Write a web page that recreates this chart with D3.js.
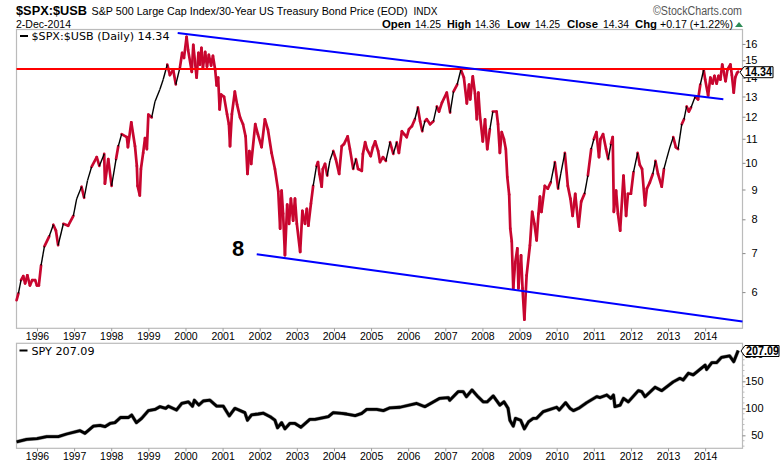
<!DOCTYPE html>
<html><head><meta charset="utf-8">
<script src="https://cdnjs.cloudflare.com/ajax/libs/d3/7.8.5/d3.min.js"></script>
<style>html,body{margin:0;padding:0;background:#fff}svg{display:block}text{font-family:"Liberation Sans",Arial,sans-serif;fill:#000}</style>
</head><body><svg id="c" width="780" height="465"></svg>
<script>
const yearLabels=[1996,1997,1998,1999,2000,2001,2002,2003,2004,2005,2006,2007,2008,2009,2010,2011,2012,2013,2014];
const ratioTicks=[6,7,8,9,10,11,12,13,14,15,16];
const spyTicks=[50,100,150,200];
const ratioYears=[
1995.45,1995.50,1995.57,1995.63,1995.68,1995.74,1995.81,1995.87,1995.95,1996.00,1996.05,1996.11,1996.20,1996.33,1996.44,1996.51,1996.57,1996.71,1996.84,1996.98,
1997.07,1997.20,1997.27,1997.36,1997.47,1997.61,1997.68,1997.81,1997.83,1997.92,1998.01,1998.13,1998.19,1998.28,1998.42,1998.45,1998.54,1998.64,1998.69,1998.71,
1998.77,1998.80,1998.86,1998.91,1998.96,1999.00,1999.09,1999.18,1999.31,1999.40,1999.51,1999.58,1999.67,1999.74,1999.85,1999.91,1999.96,2000.03,2000.07,2000.17,
2000.21,2000.30,2000.35,2000.39,2000.43,2000.47,2000.53,2000.58,2000.63,2000.69,2000.74,2000.80,2000.84,2000.88,2000.92,2000.96,2001.04,2001.12,2001.17,2001.20,
2001.25,2001.33,2001.39,2001.47,2001.55,2001.62,2001.67,2001.72,2001.77,2001.88,2001.95,2002.05,2002.14,2002.22,2002.32,2002.41,2002.50,2002.55,2002.59,2002.63,
2002.68,2002.74,2002.79,2002.84,2002.90,2002.95,2003.00,2003.09,2003.15,2003.22,2003.27,2003.31,2003.38,2003.44,2003.53,2003.57,2003.61,2003.67,2003.70,2003.76,
2003.82,2003.89,2003.98,2004.05,2004.14,2004.21,2004.27,2004.37,2004.43,2004.52,2004.59,2004.65,2004.75,2004.78,2004.84,2004.89,2004.99,2005.05,2005.11,2005.19,
2005.24,2005.32,2005.40,2005.51,2005.60,2005.69,2005.75,2005.83,2005.89,2005.96,2006.02,2006.10,2006.18,2006.26,2006.32,2006.38,2006.45,2006.50,2006.59,2006.68,
2006.77,2006.83,2006.91,2007.04,2007.13,2007.22,2007.32,2007.42,2007.50,2007.58,2007.64,2007.67,2007.74,2007.80,2007.85,2007.89,2007.93,2008.01,2008.07,2008.13,
2008.20,2008.28,2008.38,2008.42,2008.47,2008.52,2008.58,2008.63,2008.67,2008.72,2008.75,2008.79,2008.83,2008.88,2008.94,2008.97,2009.04,2009.08,2009.13,2009.19,
2009.28,2009.34,2009.40,2009.46,2009.51,2009.55,2009.59,2009.68,2009.76,2009.84,2009.95,2010.04,2010.11,2010.22,2010.30,2010.37,2010.43,2010.50,2010.59,2010.66,
2010.75,2010.84,2010.93,2011.00,2011.07,2011.14,2011.18,2011.25,2011.33,2011.39,2011.46,2011.51,2011.54,2011.60,2011.65,2011.71,2011.80,2011.87,2011.92,2012.00,
2012.07,2012.18,2012.24,2012.30,2012.38,2012.43,2012.51,2012.59,2012.66,2012.73,2012.83,2012.89,2012.96,2013.05,2013.14,2013.21,2013.27,2013.37,2013.43,2013.50,
2013.56,2013.62,2013.73,2013.81,2013.87,2013.96,2014.00,2014.08,2014.14,2014.20,2014.25,2014.31,2014.36,2014.41,2014.46,2014.50,2014.55,2014.60,2014.68,2014.72,
2014.77,2014.81,2014.86,2014.89];
const ratioValues=[
5.81,5.97,6.29,6.39,6.21,6.41,6.16,6.29,6.29,6.16,6.16,6.67,7.19,7.48,7.83,7.65,7.22,7.86,7.80,8.11,
8.68,9.10,8.71,9.32,9.84,10.23,9.88,10.36,9.21,10.15,9.13,10.15,10.68,11.20,11.07,10.64,11.74,10.68,9.88,9.13,
8.79,9.76,10.40,11.03,10.56,12.10,11.97,12.75,13.36,13.90,14.75,14.15,14.45,13.63,14.57,15.44,15.14,16.45,15.63,14.33,
15.94,14.01,15.44,14.75,15.75,14.57,15.50,14.63,15.32,14.69,15.26,14.45,13.58,14.01,12.35,13.10,12.98,12.12,11.65,10.68,
12.12,13.25,12.59,11.97,11.65,11.10,9.57,10.48,9.96,11.65,11.20,10.64,11.88,11.42,10.40,9.76,8.93,7.71,8.96,8.18,
6.94,8.48,7.86,8.68,7.96,8.68,7.86,7.03,8.27,7.86,8.34,7.80,8.51,9.13,9.88,10.03,9.57,9.10,9.76,9.96,
9.51,10.08,10.48,10.15,9.57,10.68,10.77,11.10,10.56,9.76,10.15,9.76,9.69,10.36,10.85,10.56,10.27,10.64,10.89,10.48,
10.03,10.23,10.08,10.85,10.36,10.85,10.40,11.33,11.20,11.07,11.42,11.56,11.88,12.45,11.79,11.33,11.79,11.88,11.65,11.79,
12.50,12.25,12.69,13.20,12.20,13.25,13.63,14.45,14.01,12.65,13.63,12.85,14.07,13.15,11.88,13.20,12.12,10.89,11.88,10.56,
11.42,12.25,12.25,11.65,10.40,11.29,10.98,10.56,9.45,8.82,7.71,7.33,6.09,6.72,7.13,6.09,6.94,6.09,5.38,6.41,
7.22,8.24,7.86,7.36,8.18,8.75,8.24,9.13,9.03,9.26,10.03,9.03,9.57,10.40,9.13,8.68,8.11,8.85,7.77,8.58,
8.85,9.51,10.56,10.98,11.29,10.23,10.98,11.20,10.56,10.15,10.77,11.07,8.24,8.96,8.18,7.65,9.51,8.11,8.85,8.85,
9.64,10.40,9.92,9.76,8.45,9.03,9.26,9.57,10.08,9.57,9.10,9.76,10.15,10.64,11.07,10.64,10.56,11.65,11.88,12.50,
12.25,12.45,12.98,12.85,13.63,14.45,13.90,13.05,14.01,13.68,14.10,13.68,14.10,13.90,14.75,14.33,13.81,14.45,14.75,14.15,
13.20,14.01,14.27,14.34];
const spyYears=[
1995.45,1995.72,1996.00,1996.26,1996.57,1996.80,1997.16,1997.29,1997.52,1997.70,1997.83,1997.97,1998.10,1998.25,1998.46,1998.55,1998.68,1998.82,1999.00,1999.18,
1999.31,1999.47,1999.54,1999.76,1999.90,2000.08,2000.19,2000.24,2000.36,2000.48,2000.66,2000.84,2001.02,2001.18,2001.33,2001.60,2001.67,2001.78,2001.96,2002.10,
2002.28,2002.41,2002.48,2002.59,2002.68,2002.81,2002.95,2003.11,2003.35,2003.49,2003.85,2003.98,2004.21,2004.34,2004.57,2004.75,2004.88,2005.15,2005.33,2005.51,
2005.78,2006.23,2006.45,2006.85,2007.08,2007.12,2007.35,2007.48,2007.57,2007.72,2007.86,2008.02,2008.13,2008.29,2008.47,2008.58,2008.69,2008.74,2008.83,2008.89,
2009.03,2009.13,2009.24,2009.37,2009.46,2009.64,2010.00,2010.07,2010.24,2010.36,2010.45,2010.59,2010.81,2011.08,2011.17,2011.35,2011.46,2011.53,2011.57,2011.71,
2011.80,2011.93,2012.20,2012.29,2012.38,2012.65,2012.83,2013.14,2013.32,2013.41,2013.55,2013.68,2014.00,2014.04,2014.18,2014.31,2014.44,2014.66,2014.77,2014.89];
const spyValues=[
38,42.6,44,47.5,47.5,52.5,58.6,53.7,67,68.5,66,72,73.5,83,83,87.6,73.5,81.5,95.7,98,
103,100,104,97,109,112,104,115,106,113.6,115,104,104,86,100,92,78,88,89.5,91,
84.6,78,64,73.5,62,72,72,65,79.6,79.6,84.6,92,90.7,89.5,86.4,90.7,98,98,95.7,101,
102,109,103,118.5,120,115,131,131,121.6,134,123,112,112,123,106,112,100,78,67,81.5,
78,62,75,81.5,81.5,94,102,97,110.5,100,95.7,100,110.5,121.6,120,124.7,118.5,124.7,103,106,
118.5,112,132.7,131,121.6,139,132.7,149,155.6,152.5,165,162,180,172,184.6,184.6,194.4,197,186.4,207];
const resistanceLevel=14.49;
const upperChannelYears=[1999.79,2014.49], upperChannelValues=[16.71,12.86];
const lowerChannelYears=[2001.92,2015.006], lowerChannelValues=[6.97,5.34];

const F=[16.5,742.5];
const svg=d3.select("#c");
const x=d3.scaleLinear().domain([1995.448,2015.006]).range(F);
const y1=d3.scaleLog().domain([5.2,16.94]).range([328.3,29.5]);
const y2=d3.scaleLinear().domain([26,220.4]).range([448.3,343.3]);
const gray="#bbb";

function frame(top,bottom){
  svg.append("rect").attr("x",F[0]).attr("y",top).attr("width",F[1]-F[0]).attr("height",bottom-top)
   .attr("fill","none").attr("stroke",gray).attr("stroke-width",1.2);
}
function xAxis(yPos){
  const g=svg.append("g").attr("transform",`translate(0,${yPos})`)
   .call(d3.axisBottom(x).tickValues(yearLabels).tickFormat(d3.format("d")).tickSize(3).tickPadding(1));
  g.select(".domain").remove();
  g.selectAll("line").attr("stroke","#999");
  g.selectAll("text").attr("font-size",10.5).attr("font-family","Liberation Sans").attr("fill","#000");
}
frame(29.5,328.3); frame(343.3,448.3);
xAxis(328.3); xAxis(448.3);

// right axes
const ax1=svg.append("g").attr("transform",`translate(${F[1]},0)`)
  .call(d3.axisRight(y1).tickValues(ratioTicks).tickFormat(d3.format("d")).tickSize(3).tickPadding(0));
ax1.select(".domain").remove();
ax1.selectAll("line").attr("stroke","#888");
ax1.selectAll("text").attr("font-size",11).attr("font-family","Liberation Sans").attr("fill","#000")
  .attr("text-anchor","end").attr("x",15);
const ax2=svg.append("g").attr("transform",`translate(${F[1]},0)`)
  .call(d3.axisRight(y2).tickValues(spyTicks).tickSize(3).tickPadding(0));
ax2.select(".domain").remove();
ax2.selectAll("line").attr("stroke","#888");
ax2.selectAll("text").attr("font-size",11).attr("font-family","Liberation Sans").attr("fill","#000")
  .attr("text-anchor","end").attr("x",21);
const minor=d3.range(30,220,10).filter(v=>v%50!==0);
svg.append("g").selectAll("line").data(minor).join("line")
  .attr("x1",F[1]).attr("x2",F[1]+2).attr("y1",d=>y2(d)).attr("y2",d=>y2(d)).attr("stroke","#bbb");

// ratio series
const ratio=ratioYears.map((t,i)=>({t,v:ratioValues[i]}));
const line1=d3.line().x(d=>x(d.t)).y(d=>y1(d.v));
const segs=d3.pairs(ratio);
const isBlack=([a,b])=>{const dx=x(b.t)-x(a.t),dy=y1(a.v)-y1(b.v);return dy>9&&dx>=2.5&&dy/dx>2.2&&dy/dx<7;};
svg.append("g").selectAll("path").data(segs.filter(s=>!isBlack(s))).join("path")
  .attr("d",s=>line1(s)).attr("fill","none").attr("stroke","#c8062f").attr("stroke-width",2.7).attr("stroke-linecap","round");
svg.append("g").selectAll("path").data(segs.filter(isBlack)).join("path")
  .attr("d",s=>line1(s)).attr("fill","none").attr("stroke","#000").attr("stroke-width",1.4);

// spy series
const spy=spyYears.map((t,i)=>({t,v:spyValues[i]}));
const line2=d3.line().x(d=>x(d.t)).y(d=>y2(d.v));
svg.append("path").attr("d",line2(spy)).attr("fill","none").attr("stroke","#999").attr("stroke-width",3.8).attr("stroke-linejoin","round");
svg.append("path").attr("d",line2(spy)).attr("fill","none").attr("stroke","#000").attr("stroke-width",2.8).attr("stroke-linejoin","round");

// annotations
svg.append("line").attr("x1",F[0]).attr("x2",F[1]).attr("y1",y1(resistanceLevel)).attr("y2",y1(resistanceLevel)).attr("stroke","#f00").attr("stroke-width",2);
[[upperChannelYears,upperChannelValues],[lowerChannelYears,lowerChannelValues]].forEach(([a,b])=>{
  svg.append("line").attr("x1",x(a[0])).attr("x2",x(a[1])).attr("y1",y1(b[0])).attr("y2",y1(b[1])).attr("stroke","#00f").attr("stroke-width",2);
});
svg.append("text").attr("x",232).attr("y",256).attr("font-size",22).attr("font-weight","bold").text("8");

// header
function t(xp,yp,s,size,opts={}){
  const e=svg.append("text").attr("x",xp).attr("y",yp).attr("font-size",size).text(s);
  if(opts.bold)e.attr("font-weight","bold");
  if(opts.len)e.attr("textLength",opts.len).attr("lengthAdjust","spacingAndGlyphs");
  if(opts.fill)e.style("fill",opts.fill);
  if(opts.font)e.style("font-family",opts.font);
  return e;
}
t(16,15,"$SPX:$USB",13,{bold:1,len:71});
t(91.5,15,"S&P 500 Large Cap Index/30-Year US Treasury Bond Price (EOD)",11,{len:316});
t(413.5,15,"INDX",10,{len:24});
t(653,15,"©StockCharts.com",12,{len:89,fill:"#555"});
t(16,27.5,"2-Dec-2014",10.5,{len:55});
[[382,"Open",1,29],[415,"14.25",0,26],[447,"High",1,24],[475,"14.36",0,25],[507,"Low",1,23],[535,"14.25",0,25],
 [567,"Close",1,31],[603,"14.34",0,26],[635,"Chg",1,22],[660,"+0.17 (+1.22%)",0,73]].forEach(([a,s,b,l])=>t(a,27.5,s,10.5,{bold:b,len:l}));
svg.append("path").attr("d","M735,27 L743,27 L739,22 Z").attr("fill","#2e8b57");

// legends
svg.append("rect").attr("x",20).attr("y",35).attr("width",8).attr("height",2).attr("fill","#000");
t(31.5,40,"$SPX:$USB (Daily) 14.34",10.5,{len:138,font:"DejaVu Sans"});
svg.append("rect").attr("x",19.5).attr("y",349.5).attr("width",8).attr("height",2).attr("fill","#000");
t(31.5,354.5,"SPY 207.09",10.5,{len:63,font:"DejaVu Sans"});

// price tags
function tag(x0,x1,yc,s,len){
  const h=5.5;
  svg.append("path").attr("d",`M${x1},${yc-h} L${x0+4},${yc-h} L${x0},${yc} L${x0+4},${yc+h} L${x1},${yc+h} Z`)
    .attr("fill","#fff").attr("stroke","#000").attr("stroke-width",1);
  t(x0+5,yc+4.2,s,12,{bold:1,len});
}
tag(740,773,72.2,"14.34",27);
tag(741,779,351,"207.09",33);
</script></body></html>
